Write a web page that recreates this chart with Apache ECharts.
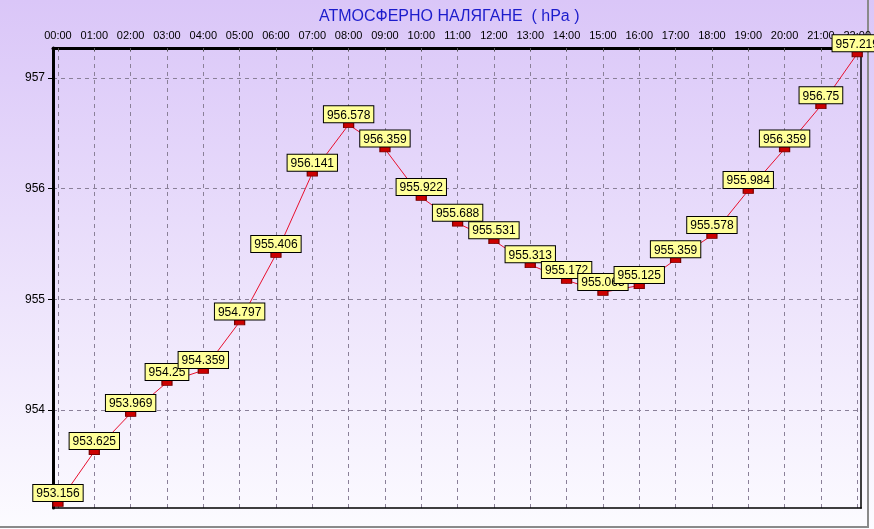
<!DOCTYPE html>
<html>
<head>
<meta charset="utf-8">
<script src="https://cdn.jsdelivr.net/npm/echarts@6/dist/echarts.min.js"></script>
<style>html,body{margin:0;padding:0;background:#fff}#c{width:874px;height:529px}</style>
</head>
<body>
<div id="c"></div>
<script>
const hours = ['00:00','01:00','02:00','03:00','04:00','05:00','06:00','07:00','08:00','09:00','10:00','11:00','12:00','13:00','14:00','15:00','16:00','17:00','18:00','19:00','20:00','21:00','22:00'];
const pressure = [953.156,953.625,953.969,954.25,954.359,954.797,955.406,956.141,956.578,956.359,955.922,955.688,955.531,955.313,955.172,955.063,955.125,955.359,955.578,955.984,956.359,956.75,957.219];
const yTicks = [954,955,956,957];
const titleText = 'АТМОСФЕРНО НАЛЯГАНЕ  ( hPa )';

const xIdx = hours.map((h,i)=>i);
const seriesData = pressure.map((v,i)=>[i,v]);
const font = 'Liberation Sans, Arial, sans-serif';
const xMin = -0.137, xMax = 22.11, yMin = 953.1145, yMax = 957.271;
const dash = {color:'#8a8098', width:1, type:[4,4]};

const chart = echarts.init(document.getElementById('c'), null, {renderer:'canvas'});
chart.setOption({
  animation:false,
  backgroundColor:{type:'linear',x:0,y:0,x2:0,y2:1,colorStops:[{offset:0,color:'#dac6f8'},{offset:1,color:'#fcfbff'}]},
  title:{text:titleText,left:314,top:4,textStyle:{color:'#1c1ccc',fontSize:16,fontWeight:'normal',fontFamily:font}},
  grid:{left:53,right:9,top:48,bottom:21,containLabel:false},
  xAxis:[
    {type:'value',position:'top',min:xMin,max:xMax,
     axisLine:{show:true,onZero:false,lineStyle:{color:'#000',width:3}},
     axisTick:{show:true,customValues:xIdx,length:3,inside:true,lineStyle:{color:'#555'}},
     axisLabel:{customValues:xIdx,formatter:v=>hours[Math.round(v)],color:'#000',fontSize:11,fontFamily:font,margin:7},
     splitLine:{show:true,lineStyle:dash}},
    {type:'value',position:'bottom',min:xMin,max:xMax,
     axisLine:{show:true,onZero:false,lineStyle:{color:'#000',width:1.5}},
     axisTick:{show:false},axisLabel:{show:false},splitLine:{show:false}}
  ],
  yAxis:[
    {type:'value',position:'left',min:yMin,max:yMax,
     axisLine:{show:true,onZero:false,lineStyle:{color:'#000',width:3}},
     axisTick:{show:true,customValues:yTicks,length:5,lineStyle:{color:'#000'}},
     axisLabel:{customValues:yTicks,color:'#000',fontSize:12,fontFamily:font,margin:8},
     splitLine:{show:true,lineStyle:dash}},
    {type:'value',position:'right',min:yMin,max:yMax,
     axisLine:{show:true,onZero:false,lineStyle:{color:'#000',width:1.5}},
     axisTick:{show:false},axisLabel:{show:false},splitLine:{show:false}}
  ],
  graphic:[
    {type:'line',z:-1,shape:{x1:0,y1:527,x2:868,y2:527},style:{stroke:'#8a8a8a',lineWidth:2}},
    {type:'line',z:-1,shape:{x1:868,y1:0,x2:868,y2:528},style:{stroke:'#8a8a8a',lineWidth:2}}
  ],
  series:[{
    type:'line',xAxisIndex:0,yAxisIndex:0,data:seriesData,z:5,
    lineStyle:{color:'#e8102e',width:1},
    symbol:'rect',symbolSize:[10,6],
    itemStyle:{color:'#cc0000',borderColor:'#7a0000',borderWidth:1},
    label:{show:true,position:'top',distance:-1,formatter:p=>String(p.value[1]),
      backgroundColor:'#ffff99',borderColor:'#000',borderWidth:1,padding:[2,3,0,3],
      color:'#000',fontSize:12,fontFamily:font,lineHeight:14},
    labelLayout:{hideOverlap:false}
  }]
});
</script>
</body>
</html>
